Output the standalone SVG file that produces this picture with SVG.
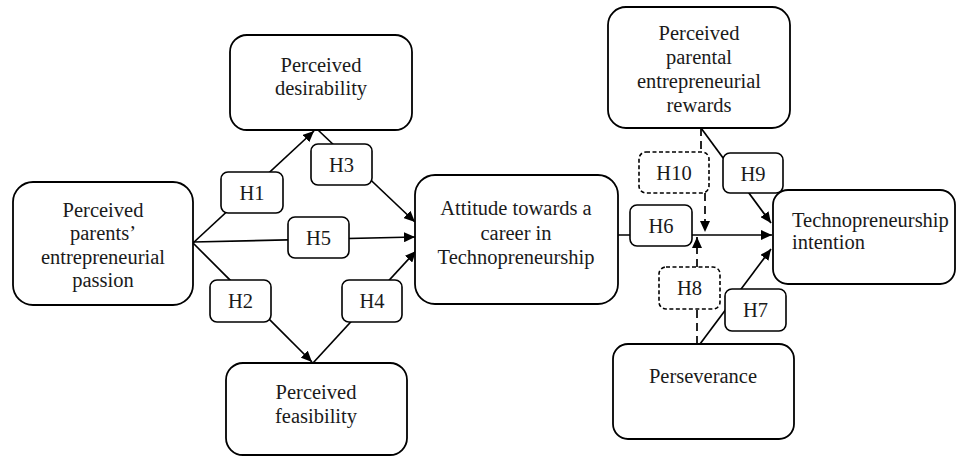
<svg xmlns="http://www.w3.org/2000/svg" width="959" height="458" viewBox="0 0 959 458">
<style>
.node{fill:#fff;stroke:#000;stroke-width:1.8}
.h{fill:#fff;stroke:#000;stroke-width:1.6}
.hd{fill:#fff;stroke:#000;stroke-width:1.6;stroke-dasharray:4 2.5}
text{font-family:"Liberation Serif","Times New Roman",serif;font-size:20.5px;fill:#1a1a1a;text-anchor:middle}
.l{text-anchor:start}
.c{fill:none;stroke:#000;stroke-width:1.7}
.d{stroke-dasharray:8 5}
</style>
<defs>
<marker id="a" markerUnits="userSpaceOnUse" markerWidth="12" markerHeight="10" refX="11" refY="5" orient="auto">
<path d="M0,0 L11,5 L0,10 z" fill="#000"/>
</marker>
</defs>
<g id="connectors">
<line class="c" x1="193" y1="243" x2="314" y2="131" marker-end="url(#a)"/>
<line class="c" x1="318" y1="130" x2="415" y2="222" marker-end="url(#a)"/>
<line class="c" x1="193" y1="242" x2="415" y2="237" marker-end="url(#a)"/>
<line class="c" x1="193" y1="243" x2="312" y2="362" marker-end="url(#a)"/>
<line class="c" x1="313" y1="363" x2="416" y2="251" marker-end="url(#a)"/>
<line class="c" x1="618" y1="235" x2="772" y2="235" marker-end="url(#a)"/>
<line class="c" x1="701" y1="128" x2="771" y2="223" marker-end="url(#a)"/>
<line class="c" x1="700" y1="344" x2="771" y2="249" marker-end="url(#a)"/>
<polyline class="c d" points="701,128 701,152"/>
<line class="c d" x1="705" y1="193" x2="705" y2="232" marker-end="url(#a)"/>
<line class="c d" x1="697" y1="344" x2="697" y2="309"/>
<line class="c d" x1="697" y1="267" x2="697" y2="237" marker-end="url(#a)"/>
</g>
<g id="passion">
<rect class="node" x="13" y="182" width="180" height="123" rx="20"/>
<text x="103" y="217">Perceived</text>
<text x="103" y="240">parents’</text>
<text x="103" y="264">entrepreneurial</text>
<text x="103" y="287">passion</text>
</g>
<g id="desirability">
<rect class="node" x="230" y="35" width="182" height="95" rx="17"/>
<text x="321" y="72">Perceived</text>
<text x="321" y="95">desirability</text>
</g>
<g id="feasibility">
<rect class="node" x="226" y="363" width="181" height="92" rx="17"/>
<text x="316" y="399">Perceived</text>
<text x="316" y="423">feasibility</text>
</g>
<g id="attitude">
<rect class="node" x="415" y="175" width="203" height="129" rx="20"/>
<text x="516" y="215">Attitude towards a</text>
<text x="516" y="240">career in</text>
<text x="516" y="264">Technopreneurship</text>
</g>
<g id="rewards">
<rect class="node" x="608" y="7" width="182" height="121" rx="18"/>
<text x="699" y="40">Perceived</text>
<text x="699" y="64">parental</text>
<text x="699" y="88">entrepreneurial</text>
<text x="699" y="112">rewards</text>
</g>
<g id="intention">
<rect class="node" x="773" y="190" width="182" height="94" rx="15"/>
<text class="l" x="792" y="227">Technopreneurship</text>
<text class="l" x="792" y="249">intention</text>
</g>
<g id="perseverance">
<rect class="node" x="613" y="344" width="181" height="95" rx="15"/>
<text x="703" y="383">Perseverance</text>
</g>
<g id="H1"><rect class="h" x="221" y="172" width="62" height="41" rx="7"/><text x="252" y="200">H1</text></g>
<g id="H2"><rect class="h" x="210" y="280" width="61" height="42" rx="7"/><text x="240.5" y="308">H2</text></g>
<g id="H3"><rect class="h" x="311" y="144" width="61" height="41" rx="7"/><text x="341.5" y="172">H3</text></g>
<g id="H4"><rect class="h" x="342" y="280" width="60" height="42" rx="7"/><text x="372" y="308">H4</text></g>
<g id="H5"><rect class="h" x="288" y="217" width="61" height="41" rx="7"/><text x="318.5" y="245">H5</text></g>
<g id="H6"><rect class="h" x="630" y="205" width="62" height="41" rx="7"/><text x="661" y="233">H6</text></g>
<g id="H7"><rect class="h" x="725" y="289" width="61" height="42" rx="7"/><text x="755.5" y="317">H7</text></g>
<g id="H8"><rect class="hd" x="659" y="267" width="61" height="42" rx="7"/><text x="689.5" y="295">H8</text></g>
<g id="H9"><rect class="h" x="723" y="153" width="60" height="40" rx="7"/><text x="753" y="181">H9</text></g>
<g id="H10"><rect class="hd" x="639" y="152" width="70" height="41" rx="7"/><text x="674" y="180">H10</text></g>
</svg>
